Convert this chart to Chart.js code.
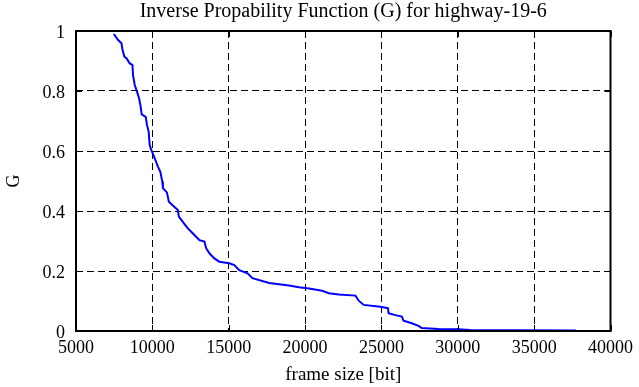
<!DOCTYPE html>
<html>
<head>
<meta charset="utf-8">
<script src="https://cdn.jsdelivr.net/npm/chart.js@4.4.1/dist/chart.umd.min.js"></script>
<style>
  html, body { margin: 0; padding: 0; background: #fff; }
  #wrap { width: 639px; height: 387px; }
</style>
</head>
<body>
<div id="wrap"><canvas id="invChart"></canvas></div>
<script>
// values
var frameSize = [7477, 7758, 7979, 8044, 8175, 8305, 8520, 8696, 8735, 8846,
    8996, 9127, 9218, 9303, 9563, 9648, 9759, 9824, 9935, 10150,
    10365, 10522, 10652, 10691, 10952, 11082, 11304, 11669, 11734, 11995,
    12321, 12543, 12868, 13084, 13410, 13521, 13735, 14061, 14387, 15039,
    15365, 15691, 16232, 16558, 17647, 18951, 19603, 20254, 21121, 21558,
    22210, 23299, 23514, 23840, 24928, 25424, 25470, 25906, 26337, 26447,
    26988, 27425, 27640, 28749, 30033, 30796, 37745];
var gValue = [0.99, 0.97, 0.959, 0.937, 0.914, 0.909, 0.892, 0.887, 0.853, 0.82,
    0.798, 0.776, 0.753, 0.722, 0.714, 0.687, 0.664, 0.62, 0.603, 0.576,
    0.548, 0.531, 0.498, 0.476, 0.462, 0.431, 0.42, 0.403, 0.381, 0.364,
    0.342, 0.331, 0.314, 0.303, 0.298, 0.276, 0.259, 0.242, 0.231, 0.226,
    0.22, 0.203, 0.192, 0.176, 0.16, 0.152, 0.146, 0.142, 0.134, 0.126,
    0.122, 0.118, 0.101, 0.087, 0.081, 0.076, 0.059, 0.053, 0.048, 0.034,
    0.026, 0.017, 0.01, 0.007, 0.006, 0.003, 0.002];
var xTicks = [5000, 10000, 15000, 20000, 25000, 30000, 35000, 40000];
var yTicks = [0, 0.2, 0.4, 0.6, 0.8, 1];

var points = frameSize.map(function (x, i) { return { x: x, y: gValue[i] }; });
var serif = 'Liberation Serif, Times New Roman, serif';

// box around the plot plus small inward tick marks (gnuplot look)
var boxPlugin = {
    id: 'box',
    afterDraw: function (chart) {
        var a = chart.chartArea, ctx = chart.ctx;
        var xs = chart.scales.x, ys = chart.scales.y;
        ctx.save();
        ctx.strokeStyle = '#000';
        ctx.lineWidth = 1;
        xTicks.forEach(function (v) {
            var px = Math.round(xs.getPixelForValue(v)) + 0.5;
            ctx.beginPath();
            ctx.moveTo(px, a.bottom); ctx.lineTo(px, a.bottom - 6);
            ctx.moveTo(px, a.top); ctx.lineTo(px, a.top + 6);
            ctx.stroke();
        });
        yTicks.forEach(function (v) {
            var py = Math.round(ys.getPixelForValue(v)) + 0.5;
            ctx.beginPath();
            ctx.moveTo(a.left, py); ctx.lineTo(a.left + 6, py);
            ctx.moveTo(a.right, py); ctx.lineTo(a.right - 6, py);
            ctx.stroke();
        });
        ctx.lineWidth = 2;
        ctx.strokeRect(a.left, a.top, a.right - a.left, a.bottom - a.top);
        ctx.restore();
    }
};

new Chart(document.getElementById('invChart').getContext('2d'), {
    type: 'line',
    data: {
        datasets: [{
            data: points,
            borderColor: '#0000ff',
            borderWidth: 2,
            pointRadius: 0,
            fill: false,
            tension: 0
        }]
    },
    options: {
        responsive: true,
        maintainAspectRatio: false,
        animation: false,
        layout: { padding: { left: 3, right: 26, top: 0, bottom: 0 } },
        plugins: {
            legend: { display: false },
            tooltip: { enabled: false },
            title: {
                display: true,
                fullSize: false,
                text: 'Inverse Propability Function (G) for highway-19-6',
                color: '#000',
                font: { family: serif, size: 20, weight: 'normal' },
                padding: { top: 0, bottom: 7 }
            }
        },
        scales: {
            x: {
                type: 'linear',
                min: 5000,
                max: 40000,
                afterFit: function (s) { s.height = 56; },
                afterBuildTicks: function (s) {
                    s.ticks = xTicks.map(function (v) { return { value: v }; });
                },
                grid: {
                    color: '#000',
                    lineWidth: 1,
                    drawTicks: false
                },
                border: { display: false, dash: [7, 4] },
                ticks: {
                    color: '#000',
                    padding: 6,
                    maxRotation: 0,
                    font: { family: serif, size: 18 },
                    callback: function (v) { return String(v); }
                },
                title: {
                    display: true,
                    text: 'frame size [bit]',
                    color: '#000',
                    font: { family: serif, size: 19 },
                    padding: { top: 0, bottom: 1 }
                }
            },
            y: {
                min: 0,
                max: 1,
                afterFit: function (s) { s.width = 73; },
                afterBuildTicks: function (s) {
                    s.ticks = yTicks.map(function (v) { return { value: v }; });
                },
                grid: {
                    color: '#000',
                    lineWidth: 1,
                    drawTicks: false
                },
                border: { display: false, dash: [7, 4] },
                ticks: {
                    color: '#000',
                    padding: 11,
                    labelOffset: 2,
                    font: { family: serif, size: 18 },
                    callback: function (v) { return String(v); }
                },
                title: {
                    display: true,
                    text: 'G',
                    color: '#000',
                    font: { family: serif, size: 18 },
                    padding: { top: 0, bottom: 0 }
                }
            }
        }
    },
    plugins: [boxPlugin]
});
</script>
</body>
</html>
